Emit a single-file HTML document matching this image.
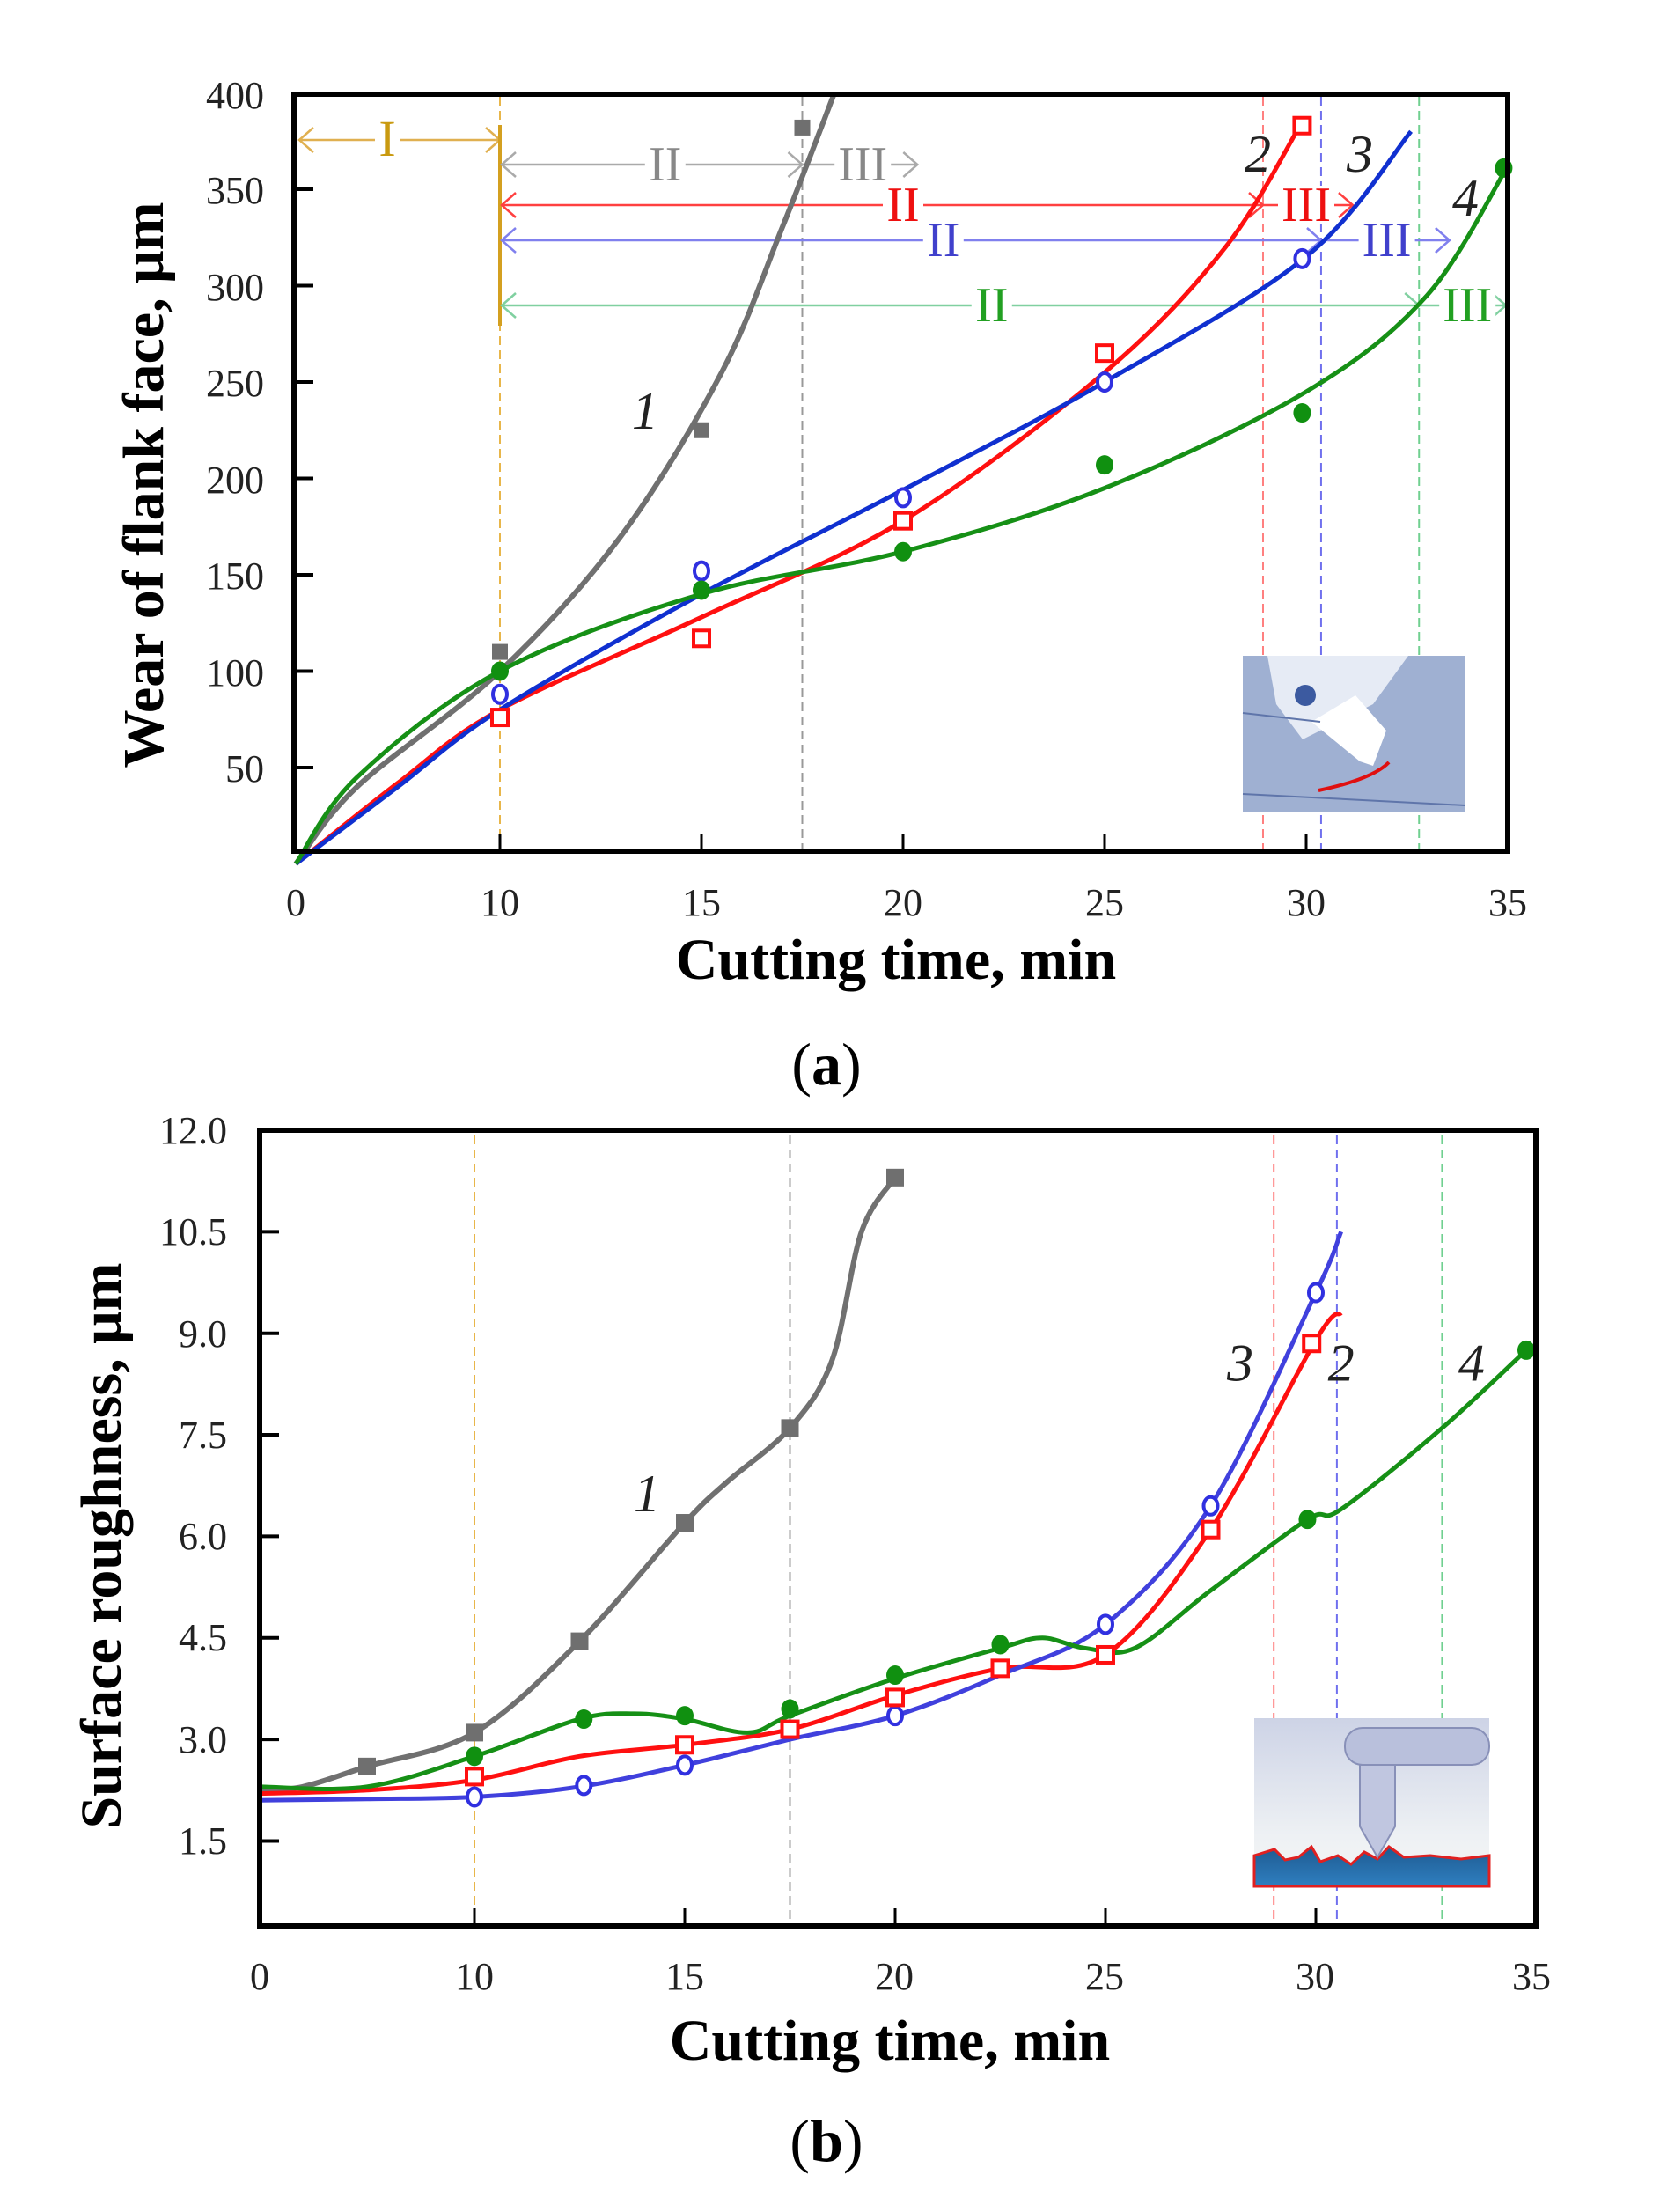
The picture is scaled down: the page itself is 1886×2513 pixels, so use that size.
<!DOCTYPE html>
<html><head><meta charset="utf-8"><style>
html,body{margin:0;padding:0;background:#fff;}
svg{display:block;}
text{font-family:"Liberation Serif",serif;}
</style></head><body>
<svg id="s" width="1886" height="2513" viewBox="0 0 1886 2513" xmlns="http://www.w3.org/2000/svg">
<rect width="1886" height="2513" fill="#fff"/>
<g id="g"></g>
<!-- Plot A text -->
<g font-size="44" fill="#222" text-anchor="end">
<text x="300" y="123">400</text><text x="300" y="231">350</text><text x="300" y="341">300</text>
<text x="300" y="450">250</text><text x="300" y="560">200</text><text x="300" y="669">150</text>
<text x="300" y="779">100</text><text x="300" y="888">50</text>
</g>
<g font-size="44" fill="#222" text-anchor="middle">
<text x="336" y="1040">0</text><text x="568" y="1040">10</text><text x="797" y="1040">15</text>
<text x="1026" y="1040">20</text><text x="1255" y="1040">25</text><text x="1484" y="1040">30</text><text x="1713" y="1040">35</text>
</g>
<text x="1018" y="1112" font-size="66" font-weight="bold" text-anchor="middle">Cutting time, min</text>
<text x="939" y="1232" font-size="68" text-anchor="middle">(<tspan font-weight="bold">a</tspan>)</text>
<text transform="translate(185,551) rotate(-90)" font-size="66" font-weight="bold" text-anchor="middle">Wear of flank face, μm</text>
<!-- Plot B text -->
<g font-size="44" fill="#222" text-anchor="end">
<text x="258" y="1299">12.0</text><text x="258" y="1414">10.5</text><text x="258" y="1530">9.0</text>
<text x="258" y="1645">7.5</text><text x="258" y="1760">6.0</text><text x="258" y="1875">4.5</text>
<text x="258" y="1991">3.0</text><text x="258" y="2106">1.5</text>
</g>
<g font-size="44" fill="#222" text-anchor="middle">
<text x="295" y="2260">0</text><text x="539" y="2260">10</text><text x="778" y="2260">15</text>
<text x="1016" y="2260">20</text><text x="1255" y="2260">25</text><text x="1494" y="2260">30</text><text x="1740" y="2260">35</text>
</g>
<text x="1011" y="2340" font-size="66" font-weight="bold" text-anchor="middle">Cutting time, min</text>
<text x="939" y="2455" font-size="68" text-anchor="middle">(<tspan font-weight="bold">b</tspan>)</text>
<text transform="translate(137,1756) rotate(-90)" font-size="66" font-weight="bold" text-anchor="middle">Surface roughness, μm</text>
</svg>
<script>
var NS="http://www.w3.org/2000/svg",G=document.getElementById('g');
function el(t,a,p){var e=document.createElementNS(NS,t);for(var k in a)e.setAttribute(k,a[k]);(p||G).appendChild(e);return e;}
function txt(x,y,s,a){var e=el('text',Object.assign({x:x,y:y},a));e.textContent=s;return e;}
function spline(pts){var d='M'+pts[0][0].toFixed(1)+','+pts[0][1].toFixed(1);
 for(var i=0;i<pts.length-1;i++){var p0=pts[i-1]||pts[i],p1=pts[i],p2=pts[i+1],p3=pts[i+2]||p2;
 var c1=[p1[0]+(p2[0]-p0[0])/6,p1[1]+(p2[1]-p0[1])/6],c2=[p2[0]-(p3[0]-p1[0])/6,p2[1]-(p3[1]-p1[1])/6];
 d+='C'+c1[0].toFixed(1)+','+c1[1].toFixed(1)+' '+c2[0].toFixed(1)+','+c2[1].toFixed(1)+' '+p2[0].toFixed(1)+','+p2[1].toFixed(1);}return d;}
function mk(X,Y){return function(pts){return pts.map(function(p){return [X(p[0]),Y(p[1])];});};}
function marker(type,x,y,c,r){r=r||10;
 if(type=='sq')el('rect',{x:x-r+1,y:y-r+1,width:2*r-2,height:2*r-2,fill:'#fff',stroke:c,'stroke-width':4});
 else if(type=='fsq')el('rect',{x:x-r,y:y-r,width:2*r,height:2*r,fill:c});
 else if(type=='oc')el('ellipse',{cx:x,cy:y,rx:r-2,ry:r,fill:'#fff',stroke:c,'stroke-width':4});
 else el('ellipse',{cx:x,cy:y,rx:r,ry:r+1,fill:c});}
function arrowH(x1,x2,y,c,labels){ // labels: [[x,text]]
 el('line',{x1:x1,y1:y,x2:x2,y2:y,stroke:c,'stroke-width':2.5});}
function head(x,y,dir,c){el('path',{d:'M'+(x+dir*16)+','+(y-14)+' L'+x+','+y+' L'+(x+dir*16)+','+(y+14),fill:'none',stroke:c,'stroke-width':2.5});}
function roman(x,y,s,c,fs){var w=s.length*18+10;el('rect',{x:x-w/2,y:y-22,width:w,height:44,fill:'#fff'});txt(x,y+18,s,{'font-size':fs||56,fill:c,'text-anchor':'middle'});}

/* ---------- Plot A ---------- */
var AX=function(t){return t<=10?336+t*23.2:568+(t-10)*45.8;},AY=function(v){return 981.5-v*2.19;};
var A=mk(AX,AY);
// vertical dashed
[[10,'#e8b64a'],[17.5,'#999'],[28.93,'#ff8080'],[30.37,'#7070ee'],[32.8,'#70d090']].forEach(function(v){
 el('line',{x1:AX(v[0]),y1:110,x2:AX(v[0]),y2:965,stroke:v[1],'stroke-width':2,'stroke-dasharray':'10,6'});});
el('rect',{x:1412,y:745,width:253,height:177,fill:'#9fb0d2'});
el('path',{d:'M1440,745 L1600,745 L1560,800 L1480,840 L1450,800 Z',fill:'#e6ebf5'});
el('circle',{cx:1483,cy:790,r:12,fill:'#3c5aa0'});
el('path',{d:'M1490,820 L1540,790 L1575,830 L1560,870 L1545,865 Z',fill:'#fff'});
el('line',{x1:1412,y1:810,x2:1500,y2:820,stroke:'#5f75aa','stroke-width':2});
el('line',{x1:1412,y1:902,x2:1665,y2:915,stroke:'#5f75aa','stroke-width':2});
el('path',{d:'M1498,898 Q1560,885 1578,866',fill:'none',stroke:'#e01010','stroke-width':4});
// phase arrows
var xo=AX(10);
el('line',{x1:340,y1:159,x2:xo,y2:159,stroke:'#e0b050','stroke-width':2.5});head(340,159,1,'#e0b050');head(xo,159,-1,'#e0b050');
roman(440,159,'I','#c99a10',58);
el('line',{x1:xo,y1:142,x2:xo,y2:370,stroke:'#d4a020','stroke-width':4});
var rows=[[187,17.5,20.4,'#aaa','#888',14.1,19.0],[233,28.93,31.2,'#ff4040','#ee1010',20.0,30.0],[273,30.37,33.6,'#8080ee','#4040cc',21.0,32.0],[347,32.8,35,'#80d0a0','#22a022',22.2,34.0]];
rows.forEach(function(r){var y=r[0],x2=AX(r[1]),x3=AX(r[2]);
 el('line',{x1:xo+2,y1:y,x2:x3-2,y2:y,stroke:r[3],'stroke-width':2.5});
 head(xo+2,y,1,r[3]);head(x2,y,-1,r[3]);head(x3-2,y,-1,r[3]);
 roman(AX(r[5]),y,'II',r[4]);roman(AX(r[6]),y,'III',r[4]);});
// curves
el('path',{d:spline(A([[0,0],[3,40],[10,100],[13,170],[15.5,255],[17,330],[18.3,400]])),fill:'none',stroke:'#707070','stroke-width':6});
el('path',{d:spline(A([[0,0],[5,42],[10,80],[15,128],[20,178],[25,255],[28,320],[29.9,385]])),fill:'none',stroke:'#ff1010','stroke-width':5});
el('path',{d:spline(A([[0,0],[5,40],[10,80],[15,140],[20,194],[25,250],[30,315],[32.6,380]])),fill:'none',stroke:'#1030d0','stroke-width':5});
el('path',{d:spline(A([[0,0],[3,45],[10,100],[15,140],[20,162],[25,195],[30,245],[33,295],[35,362]])),fill:'none',stroke:'#169016','stroke-width':5});
[[10,110],[15,225],[17.5,382]].forEach(function(p){marker('fsq',AX(p[0]),AY(p[1]),'#6f6f6f',9);});
[[10,76],[15,117],[20,178],[25,265],[29.9,383]].forEach(function(p){marker('sq',AX(p[0]),AY(p[1]),'#ff1010',10);});
[[10,88],[15,152],[20,190],[25,250],[29.9,314]].forEach(function(p){marker('oc',AX(p[0]),AY(p[1]),'#3030e0',10);});
[[10,100],[15,142],[20,162],[25,207],[29.9,234],[34.9,361]].forEach(function(p){marker('fc',AX(p[0]),AY(p[1]),'#109010',10);});
var it={'font-size':60,'font-style':'italic',fill:'#222','text-anchor':'middle'};
txt(AX(13.6),AY(235)+20,'1',it);txt(1429,195,'2',it);txt(1545,195,'3',it);txt(1665,245,'4',it);
// frame A
el('rect',{x:334,y:107,width:1379,height:860,fill:'none',stroke:'#000','stroke-width':6});
[50,100,150,200,250,300,350].forEach(function(v){el('line',{x1:334,y1:AY(v),x2:356,y2:AY(v),stroke:'#000','stroke-width':4});});
[10,15,20,25,30].forEach(function(t){el('line',{x1:AX(t),y1:967,x2:AX(t),y2:947,stroke:'#000','stroke-width':3});});

/* ---------- Plot B ---------- */
var BX=function(t){return t<=10?295+t*24.4:539+(t-10)*47.8;},BY=function(v){return 1284+(12-v)*76.9;};
var B=mk(BX,BY);
[[10,'#e8b64a'],[17.5,'#999'],[29,'#ff8080'],[30.5,'#7070ee'],[33,'#70d090']].forEach(function(v){
 el('line',{x1:BX(v[0]),y1:1290,x2:BX(v[0]),y2:2188,stroke:v[1],'stroke-width':2,'stroke-dasharray':'10,6'});});
// inset b
var lg=el('linearGradient',{id:'bg',x1:0,y1:0,x2:0,y2:1});
el('stop',{offset:0,'stop-color':'#cdd3e6'},lg);el('stop',{offset:0.7,'stop-color':'#eef1f4'},lg);el('stop',{offset:1,'stop-color':'#f4f4f4'},lg);
var lg2=el('linearGradient',{id:'bl',x1:0,y1:0,x2:0,y2:1});
el('stop',{offset:0,'stop-color':'#1e5a90'},lg2);el('stop',{offset:1,'stop-color':'#2f7fc0'},lg2);
el('rect',{x:1425,y:1952,width:267,height:191,fill:'url(#bg)'});
el('path',{d:'M1425,2108 L1448,2101 L1460,2113 L1475,2110 L1490,2098 L1500,2115 L1520,2108 L1535,2118 L1550,2104 L1565,2112 L1578,2098 L1595,2110 L1625,2108 L1660,2112 L1692,2108 L1692,2143 L1425,2143 Z',fill:'url(#bl)',stroke:'#e02020','stroke-width':3});
el('rect',{x:1528,y:1963,width:164,height:42,rx:20,fill:'#b9c0dc',stroke:'#8890b8','stroke-width':2});
el('path',{d:'M1545,2005 L1545,2075 L1565,2110 L1585,2075 L1585,2005 Z',fill:'#c0c6e0',stroke:'#8890b8','stroke-width':2});
// curves B
el('path',{d:spline(B([[0,2.25],[2,2.3],[5,2.6],[10,3.1],[12.5,4.45],[15,6.2],[16,6.8],[17.5,7.6],[18.5,8.6],[19.2,10.5],[20,11.3]])),fill:'none',stroke:'#707070','stroke-width':6});
el('path',{d:spline(B([[0,2.2],[5,2.25],[10,2.4],[12.5,2.75],[15,2.92],[17.5,3.15],[20,3.65],[22.5,4.05],[25,4.25],[27.5,6.1],[30,8.9],[30.6,9.3]])),fill:'none',stroke:'#ff1010','stroke-width':5});
el('path',{d:spline(B([[0,2.1],[5,2.12],[10,2.15],[12.5,2.3],[15,2.62],[17.5,3.0],[20,3.35],[22.5,3.95],[25,4.7],[27.5,6.45],[30,9.6],[30.6,10.5]])),fill:'none',stroke:'#4040dd','stroke-width':5});
el('path',{d:spline(B([[0,2.3],[5,2.3],[10,2.75],[12.5,3.3],[13.8,3.38],[15,3.3],[16.5,3.1],[17.5,3.35],[20,3.9],[22.5,4.35],[23.5,4.5],[24.5,4.35],[25.7,4.35],[27.5,5.2],[29.8,6.25],[30.6,6.4],[33,7.6],[35,8.75]])),fill:'none',stroke:'#169016','stroke-width':5});
[[5,2.6],[10,3.1],[12.5,4.45],[15,6.2],[17.5,7.6],[20,11.3]].forEach(function(p){marker('fsq',BX(p[0]),BY(p[1]),'#6f6f6f',10);});
[[10,2.75],[12.6,3.3],[15,3.35],[17.5,3.45],[20,3.95],[22.5,4.4],[29.8,6.25],[35,8.75]].forEach(function(p){marker('fc',BX(p[0]),BY(p[1]),'#109010',10);});
[[10,2.15],[12.6,2.32],[15,2.62],[20,3.35],[25,4.7],[27.5,6.45],[30,9.6]].forEach(function(p){marker('oc',BX(p[0]),BY(p[1]),'#3030e0',10);});
[[10,2.45],[15,2.92],[17.5,3.15],[20,3.62],[22.5,4.05],[25,4.25],[27.5,6.1],[29.9,8.85]].forEach(function(p){marker('sq',BX(p[0]),BY(p[1]),'#ff1010',10);});
txt(BX(14.1),BY(6.63)+20,'1',it);txt(BX(28.2),BY(8.56)+20,'3',it);txt(BX(30.6),BY(8.56)+20,'2',it);txt(BX(33.7),BY(8.56)+20,'4',it);
el('rect',{x:295,y:1284,width:1450,height:904,fill:'none',stroke:'#000','stroke-width':6});
[1.5,3,4.5,6,7.5,9,10.5].forEach(function(v){el('line',{x1:295,y1:BY(v),x2:317,y2:BY(v),stroke:'#000','stroke-width':4});});
[10,15,20,25,30].forEach(function(t){el('line',{x1:BX(t),y1:2188,x2:BX(t),y2:2168,stroke:'#000','stroke-width':3});});
</script>
</body></html>
